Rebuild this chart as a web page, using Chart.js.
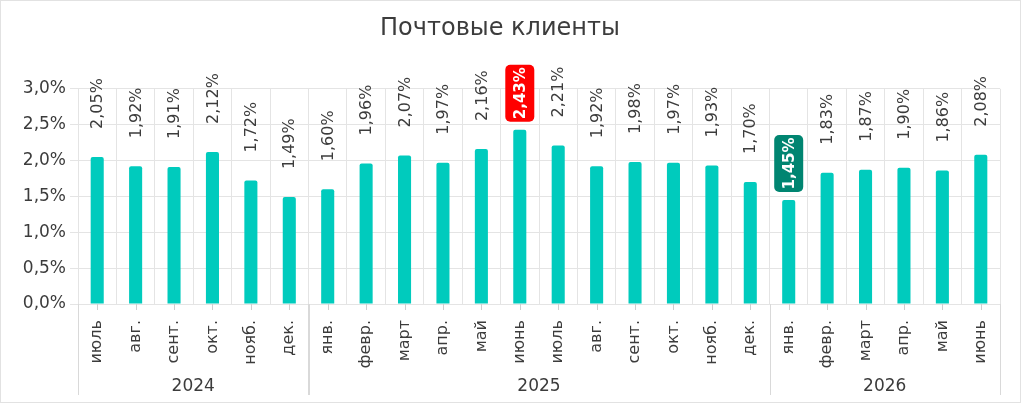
<!DOCTYPE html>
<html lang="ru">
<head>
<meta charset="utf-8">
<title>Почтовые клиенты</title>
<script src="https://cdn.jsdelivr.net/npm/chart.js@4.4.1/dist/chart.umd.min.js"></script>
<style>
  html, body { margin: 0; padding: 0; background: #fff; }
  #wrap { position: relative; width: 1024px; height: 404px; }
</style>
</head>
<body>
<div id="wrap"><canvas id="mailChart"></canvas></div>
<script>
// Данные
const months = ["июль", "авг.", "сент.", "окт.", "нояб.", "дек.",
  "янв.", "февр.", "март", "апр.", "май", "июнь", "июль", "авг.", "сент.", "окт.", "нояб.", "дек.",
  "янв.", "февр.", "март", "апр.", "май", "июнь"];
const shares = [2.05, 1.92, 1.91, 2.12, 1.72, 1.49,
  1.60, 1.96, 2.07, 1.97, 2.16, 2.43, 2.21, 1.92, 1.98, 1.97, 1.93, 1.70,
  1.45, 1.83, 1.87, 1.90, 1.86, 2.08];
const years = ["2024", "2025", "2026"];
const yearSpans = [6, 12, 6];

const FONT = "'DejaVu Sans', sans-serif";
const TEXT = "#3c3c3c";
const GRID = "#e4e4e4";
const fmt = (v, d) => v.toFixed(d).replace(".", ",") + "%";

const maxIdx = shares.indexOf(Math.max(...shares));
const minIdx = shares.indexOf(Math.min(...shares));

// подписи значений и плашки для максимума/минимума
const valueLabels = {
  id: "valueLabels",
  afterDatasetsDraw(chart) {
    const ctx = chart.ctx;
    chart.getDatasetMeta(0).data.forEach((bar, i) => {
      const text = fmt(shares[i], 2);
      ctx.save();
      ctx.translate(bar.x, bar.y);
      ctx.rotate(-Math.PI / 2);
      if (i === maxIdx || i === minIdx) {
        const off = 8, len = 57, th = 29;
        ctx.fillStyle = i === maxIdx ? "#ff0000" : "#008571";
        ctx.beginPath();
        ctx.roundRect(off, -th / 2, len, th, 5);
        ctx.fill();
        ctx.fillStyle = "#ffffff";
        ctx.font = "bold 15px " + FONT;
        ctx.textAlign = "center";
        ctx.textBaseline = "middle";
        ctx.fillText(text, off + len / 2, 1);
      } else {
        ctx.fillStyle = TEXT;
        ctx.font = "16px " + FONT;
        ctx.textAlign = "left";
        ctx.textBaseline = "middle";
        ctx.fillText(text, 28, 1);
      }
      ctx.restore();
    });
  },
  afterDraw(chart) {
    const ctx = chart.ctx;
    const xs = chart.scales.x;
    const bottom = chart.chartArea.bottom;
    const step = xs.width / months.length;
    ctx.save();
    // короткие риски по центрам столбцов
    ctx.strokeStyle = "#cfcfcf";
    ctx.lineWidth = 1;
    months.forEach((m, i) => {
      const x = Math.round(xs.getPixelForValue(i)) + 0.5;
      ctx.beginPath();
      ctx.moveTo(x, bottom);
      ctx.lineTo(x, bottom + 6);
      ctx.stroke();
    });
    // группы по годам
    let start = 0;
    ctx.font = "17px " + FONT;
    ctx.fillStyle = TEXT;
    ctx.textAlign = "center";
    ctx.textBaseline = "middle";
    ctx.strokeStyle = "#d9d9d9";
    years.forEach((y, k) => {
      const x0 = xs.getPixelForValue(start) - step / 2;
      const x1 = xs.getPixelForValue(start + yearSpans[k] - 1) + step / 2;
      [x0, x1].forEach(x => {
        ctx.beginPath();
        ctx.moveTo(Math.round(x) + 0.5, bottom);
        ctx.lineTo(Math.round(x) + 0.5, 395);
        ctx.stroke();
      });
      ctx.fillText(y, (x0 + x1) / 2, 387);
      start += yearSpans[k];
    });
    // рамка
    ctx.strokeStyle = "#e2e2e2";
    ctx.strokeRect(0.5, 0.5, 1020, 402);
    ctx.restore();
  }
};

const mailCtx = document.getElementById("mailChart").getContext("2d");

const mailChart = new Chart(mailCtx, {
  type: "bar",
  data: {
    labels: months,
    datasets: [
      {
        label: "Почтовые клиенты",
        data: shares,
        backgroundColor: "#00cbbd",
        borderRadius: 2,
        borderSkipped: "bottom",
        barPercentage: 0.34,
        categoryPercentage: 1,
      },
    ],
  },
  options: {
    responsive: true,
    maintainAspectRatio: false,
    animation: false,
    layout: { padding: { left: 0, right: 24, top: 0, bottom: 0 } },
    plugins: {
      legend: { display: false },
      tooltip: { enabled: false },
      title: {
        display: true,
        text: "Почтовые клиенты",
        color: TEXT,
        font: { family: FONT, size: 24, weight: "normal" },
        padding: { top: 14, bottom: 46 },
      },
    },
    scales: {
      x: {
        grid: { color: GRID, offset: true, drawTicks: false },
        border: { color: GRID },
        ticks: {
          color: TEXT,
          font: { family: FONT, size: 16 },
          minRotation: 90,
          maxRotation: 90,
          autoSkip: false,
          padding: 16,
        },
        afterFit(scale) { scale.height = 100; },
      },
      y: {
        min: 0,
        max: 3,
        grid: { color: GRID, tickLength: 8 },
        border: { display: false },
        ticks: {
          stepSize: 0.5,
          color: TEXT,
          font: { family: FONT, size: 17 },
          padding: 4,
          callback: (v) => fmt(v, 1),
        },
        afterFit(scale) { scale.width = 78; },
      },
    },
  },
  plugins: [valueLabels],
});
</script>
</body>
</html>
